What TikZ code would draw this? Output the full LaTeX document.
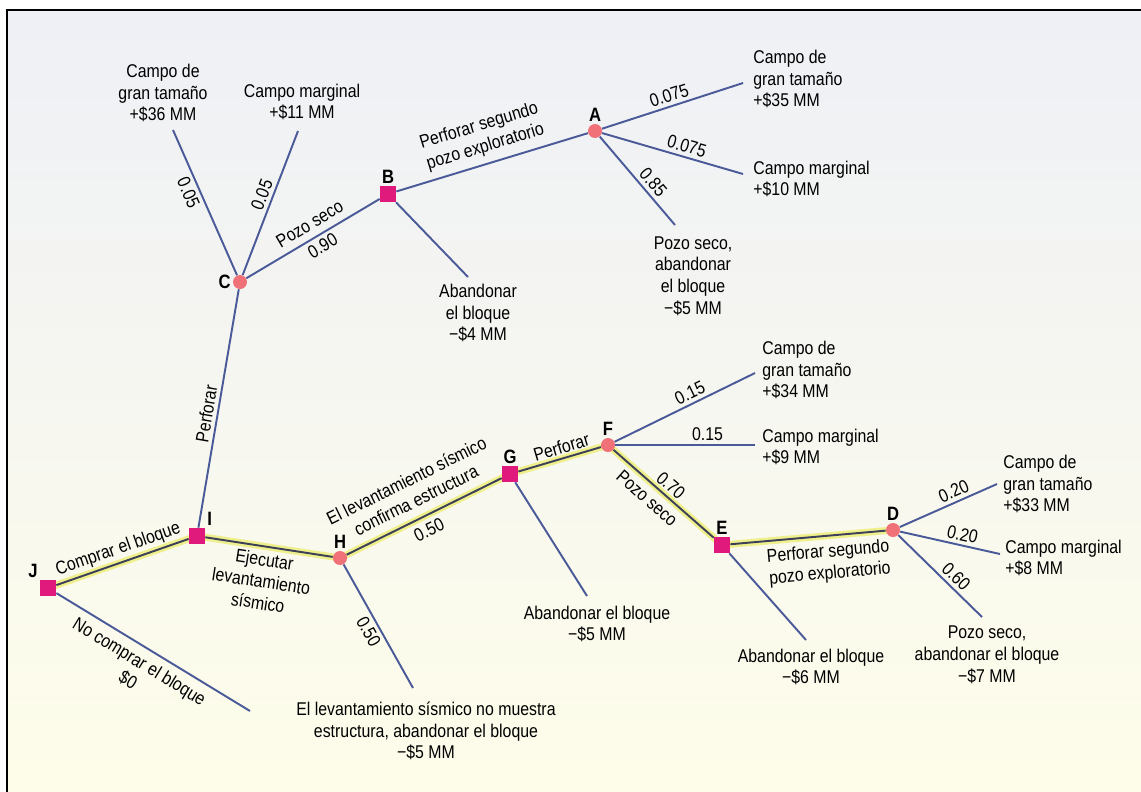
\documentclass[tikz,border=0pt]{standalone}
\usepackage{fontspec}
\setmainfont{Liberation Sans}[FakeStretch=0.86]
\usetikzlibrary{calc,backgrounds}

\definecolor{bgtop}{HTML}{EEF0F6}
\definecolor{bgbot}{HTML}{FEFDEA}
\definecolor{branch}{HTML}{4A5A98}
\definecolor{mainline}{HTML}{3C4058}
\definecolor{glowc}{HTML}{EFF08C}
\definecolor{decfill}{HTML}{E0197D}
\definecolor{chfill}{HTML}{F07278}

\tikzset{
    dec/.style={rectangle, fill=decfill, minimum size=0.32cm, inner sep=0pt},
    chance/.style={circle, fill=chfill, minimum size=0.28cm, inner sep=0pt},
    lbl/.style={font=\bfseries\fontsize{11}{12}\selectfont, inner sep=1pt},
    txt/.style={font=\fontsize{10.5}{12.4}\selectfont, align=center, inner sep=0pt},
    lft/.style={txt, align=left, anchor=west},
    prob/.style={font=\fontsize{10.5}{12.4}\selectfont, sloped, inner sep=2pt},
    br/.style={draw=branch, line width=1.1pt},
    best/.style={draw=mainline, line width=1.1pt},
    glow/.style={draw=glowc, line width=4pt, line join=round}
}

\begin{document}
\begin{tikzpicture}[x=0.02cm,y=-0.02cm]
    \useasboundingbox (0,0) rectangle (1141,791);

    % decision and chance nodes
        \node[dec, label={[lbl]above left:J}] (J) at (48,588) {};
        \node[dec, label={[lbl]above right:I}] (I) at (197,536) {};
        \node[chance, label={[lbl]above:H}] (H) at (340,558) {};
        \node[dec, label={[lbl]above:G}] (G) at (510,474) {};
        \node[chance, label={[lbl]above:F}] (F) at (608,445) {};
        \node[dec, label={[lbl]above:E}] (E) at (722,545) {};
        \node[chance, label={[lbl]above:D}] (D) at (893,530) {};
        \node[chance, label={[lbl]left:C}] (C) at (240,282) {};
        \node[dec, label={[lbl]above:B}] (B) at (388,194) {};
        \node[chance, label={[lbl]above:A}] (A) at (595,131) {};

    % ends of the branches
        \coordinate (c1) at (173,130);
        \coordinate (c2) at (298,131);
        \coordinate (b1) at (468,277);
        \coordinate (a1) at (743,83);
        \coordinate (a2) at (743,174);
        \coordinate (a3) at (675,225);
        \coordinate (j1) at (250,711);
        \coordinate (h1) at (413,688);
        \coordinate (g1) at (587,596);
        \coordinate (f1) at (755,373);
        \coordinate (f2) at (755,445);
        \coordinate (e1) at (806,640);
        \coordinate (d1) at (997,484);
        \coordinate (d2) at (1000,554);
        \coordinate (d3) at (982,617);

    \begin{pgfonlayer}{background}
    % background and frame
        \shade[top color=bgtop, bottom color=bgbot] (7,10) rectangle (1141,791);
        \draw[line width=1.2pt] (7,800) -- (7,10) -- (1150,10);

    % best path
        \draw[glow] (J.center) -- (I.center) -- (H.center) -- (G.center) -- (F.center) -- (E.center) -- (D.center);
        \draw[best] (J) -- node[prob, pos=0.5, above] (tJI) {Comprar el bloque} (I);
        \draw[best] (I) -- node[prob, pos=0.48, below, align=center, inner sep=3pt] (tIH) {Ejecutar\\levantamiento\\sísmico} (H);
        \draw[best] (H) -- node[prob, pos=0.5, above, align=center, inner sep=6pt] (tHG) {El levantamiento sísmico\\confirma estructura}
            node[prob, pos=0.49, below, inner sep=4pt] (pHG) {0.50} (G);
        \draw[best] (G) -- node[prob, pos=0.56, above] (tGF) {Perforar} (F);
        \draw[best] (F) -- node[prob, pos=0.43, below, inner sep=4pt] (tFE) {Pozo seco}
            node[prob, pos=0.5, above] (pFE) {0.70} (E);
        \draw[best] (E) -- node[prob, pos=0.62, below, align=center, inner sep=4pt] (tED) {Perforar segundo\\pozo exploratorio} (D);

    % other branches
        \draw[br] (J) -- node[prob, pos=0.47, below, align=center, inner sep=4pt] (tJ1) {No comprar el bloque\\\$0} (j1);
        \draw[br] (I) -- node[prob, pos=0.47, above] (tIC) {Perforar} (C);
        \draw[br] (C) -- node[prob, pos=0.6, below] (pC1) {0.05} (c1);
        \draw[br] (C) -- node[prob, pos=0.53, above] (pC2) {0.05} (c2);
        \draw[br] (C) -- node[prob, pos=0.53, above, inner sep=4pt] (tCB) {Pozo seco}
            node[prob, pos=0.53, below] (pCB) {0.90} (B);
        \draw[br] (B) -- (b1);
        \draw[br] (B) -- node[prob, pos=0.49, above, align=center, inner sep=4pt] (tBA) {Perforar segundo\\pozo exploratorio} (A);
        \draw[br] (A) -- node[prob, pos=0.5, above] (pA1) {0.075} (a1);
        \draw[br] (A) -- node[prob, pos=0.58, above] (pA2) {0.075} (a2);
        \draw[br] (A) -- node[prob, pos=0.6, above] (pA3) {0.85} (a3);
        \draw[br] (H) -- node[prob, pos=0.5, below] (pH1) {0.50} (h1);
        \draw[br] (G) -- (g1);
        \draw[br] (F) -- node[prob, pos=0.57, above] (pF1) {0.15} (f1);
        \draw[br] (F) -- node[prob, pos=0.66, above] (pF2) {0.15} (f2);
        \draw[br] (E) -- (e1);
        \draw[br] (D) -- node[prob, pos=0.6, above] (pD1) {0.20} (d1);
        \draw[br] (D) -- node[prob, pos=0.6, above] (pD2) {0.20} (d2);
        \draw[br] (D) -- node[prob, pos=0.6, above] (pD3) {0.60} (d3);
    \end{pgfonlayer}

    % payoffs
        \node[txt] (vC1) at (163,93) {Campo de\\gran tamaño\\+\$36 MM};
        \node[txt] (vC2) at (302,102) {Campo marginal\\+\$11 MM};
        \node[txt] (vB) at (478,313) {Abandonar\\el bloque\\−\$4 MM};
        \node[lft] (vA1) at (753,79) {Campo de\\gran tamaño\\+\$35 MM};
        \node[lft] (vA2) at (753,179) {Campo marginal\\+\$10 MM};
        \node[txt] (vA3) at (693,276) {Pozo seco,\\abandonar\\el bloque\\−\$5 MM};
        \node[lft] (vF1) at (762,370) {Campo de\\gran tamaño\\+\$34 MM};
        \node[lft] (vF2) at (762,447) {Campo marginal\\+\$9 MM};
        \node[txt] (vG) at (597,624) {Abandonar el bloque\\−\$5 MM};
        \node[txt] (vH) at (426,731) {El levantamiento sísmico no muestra\\estructura, abandonar el bloque\\−\$5 MM};
        \node[txt] (vE) at (811,667) {Abandonar el bloque\\−\$6 MM};
        \node[lft] (vD1) at (1003,484) {Campo de\\gran tamaño\\+\$33 MM};
        \node[lft] (vD2) at (1005,558) {Campo marginal\\+\$8 MM};
        \node[txt] (vD3) at (987,655) {Pozo seco,\\abandonar el bloque\\−\$7 MM};
\end{tikzpicture}
\end{document}
